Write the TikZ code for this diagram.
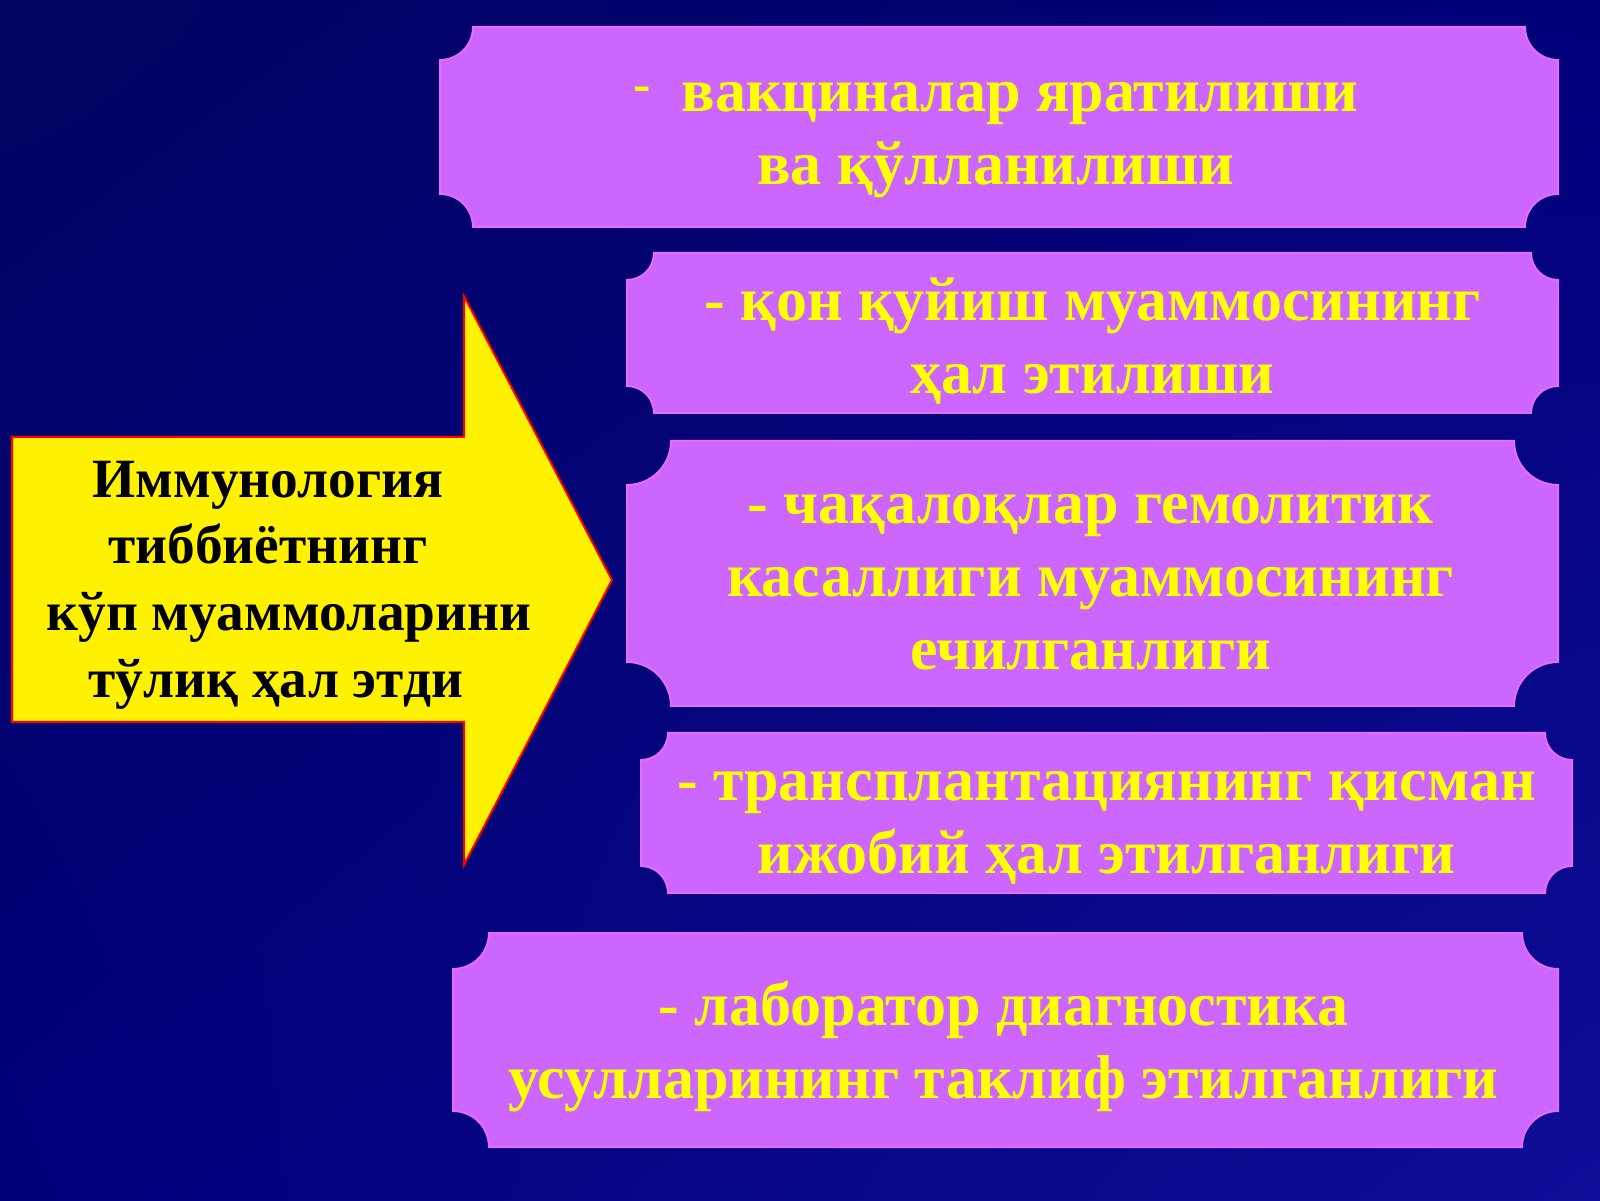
\documentclass[tikz,border=0pt]{standalone}
\usepackage{fontspec}
\setmainfont{Liberation Serif}
\usetikzlibrary{calc,positioning,shapes,shadings}

\definecolor{slidedark}{RGB}{4,4,98}
\definecolor{slidemid}{RGB}{0,0,122}
\definecolor{slidelight}{RGB}{14,14,152}
\definecolor{plaquefill}{RGB}{204,102,255}
\definecolor{plaqueedge}{RGB}{228,110,250}
\definecolor{labelyellow}{RGB}{255,255,0}

\begin{document}
\begin{tikzpicture}[x=0.5pt,y=0.5pt]

  \useasboundingbox (0,0) rectangle (1600,1200);
  \shade [upper left=slidedark, upper right=slidemid, lower left=slidemid, lower right=slidelight] (0,0) rectangle (1600,1200);

  % plaques with concave corners, r = 1/6 of the short side
  \foreach \name/\xa/\ya/\xb/\yb/\r in {vaccines/440/973/1558/1173/33,transfusion/627/787/1558/947/27,newborns/627/494/1558/759/44,transplants/641/307/1572/467/27,diagnostics/453/53/1558/267/36}
  {
    \filldraw [fill=plaquefill, draw=plaqueedge, line width=1pt] (\xa+\r,\yb) -- (\xb-\r,\yb)
      arc [start angle=180, end angle=270, radius=\r] -- (\xb,\ya+\r)
      arc [start angle=90, end angle=180, radius=\r] -- (\xa+\r,\ya)
      arc [start angle=0, end angle=90, radius=\r] -- (\xa,\yb-\r)
      arc [start angle=270, end angle=360, radius=\r] -- cycle;
    \coordinate (\name) at ($(\xa,\ya)!.5!(\xb,\yb)$);
  }

  \begin{scope}[every node/.style={align=center, inner sep=0pt, text=labelyellow,%
      font=\fontsize{31}{36.5}\selectfont\bfseries,%
      execute at begin node=\strut, execute at end node=\strut}]
    \node (vaccines_label) at ($(vaccines)+(-3,-17)$) {\raisebox{.15em}{\fontsize{26}{26}\selectfont -}\ \ вакциналар яратилиши\\ва қўлланилиши};
    \node (transfusion_label) at ($(transfusion)+(0,-14)$) {- қон қуйиш муаммосининг\\ҳал этилиши};
    \node (newborns_label) at ($(newborns)+(-2,-19)$) {- чақалоқлар гемолитик\\касаллиги муаммосининг\\ечилганлиги};
    \node (transplants_label) at ($(transplants)+(0,-20)$) {- трансплантациянинг қисман\\ижобий ҳал этилганлиги};
    \node (diagnostics_label) at ($(diagnostics)+(-2,-11)$) {- лаборатор диагностика\\усулларининг таклиф этилганлиги};
  \end{scope}

  % the big arrow
  \filldraw [fill=yellow, draw=red, line width=1pt] (12,478) -- (12,763) -- (464,763) -- (464,904)
    -- (612,620) -- (464,335) -- (464,478) -- cycle;
  \node [align=center, inner sep=0pt, font=\fontsize{27.7}{33.3}\selectfont\bfseries,%
    execute at begin node=\strut, execute at end node=\strut] (immunology) at (289,611)
    {\mbox{Иммунология\hspace{21pt}}\\\mbox{тиббиётнинг\hspace{21pt}}\\кўп муаммоларини\\\mbox{тўлиқ ҳал этди\hspace{13pt}}};

\end{tikzpicture}
\end{document}
